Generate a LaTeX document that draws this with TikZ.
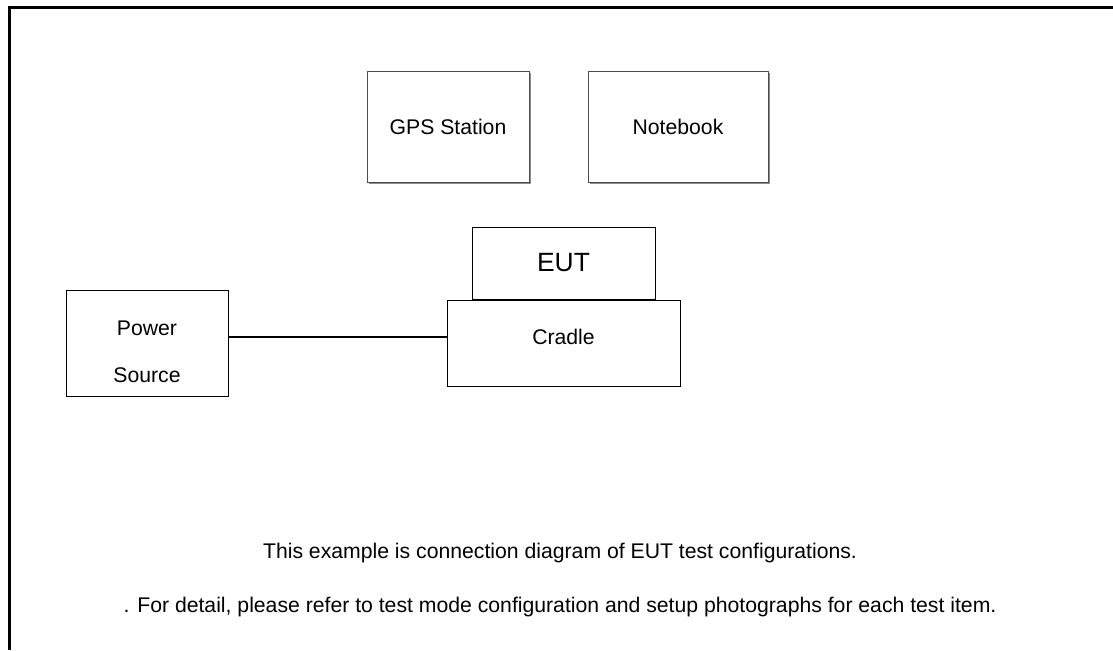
\documentclass[tikz,border=0pt]{standalone}
\usepackage{fontspec}
\setmainfont{Liberation Sans}
\usetikzlibrary{positioning,shadows}

\tikzset{
	unit/.style={draw, line width=0.5pt, minimum width=#1},
	pcbox/.style={draw=black!70, fill=white, line width=0.5pt, minimum width=#1, minimum height=55.5pt,
		drop shadow={shadow xshift=0.8pt, shadow yshift=-0.8pt, fill=black!45, opacity=1}},
}

\begin{document}
\begin{tikzpicture}[x=0.5pt, y=-0.5pt, font=\fontsize{10.6}{12.7}\selectfont]
	\useasboundingbox (0,0) rectangle (1113,650);
	\draw [line width=1.5pt] (1113,7) -- (9,7) -- (9,650);

	\node [pcbox=81pt] (GPS) at (448,126.5) {GPS Station};
	\node [pcbox=90pt] (NB) at (678,126.5) {Notebook};

	\node [unit=116.5pt, minimum height=43pt] (Cradle) at (563.5,343) {};
	\node [unit=91.5pt, minimum height=36pt, above=0pt of Cradle] (EUT) {\fontsize{13.2}{15}\selectfont EUT};
	\node at ([yshift=3pt]Cradle.center) {Cradle};
	\node [unit=81pt, minimum height=53pt, align=center] (Power) at (147,343) {\rule{0pt}{16pt}Power\\[10.8pt]Source};

	\draw [line width=1pt] ([yshift=3pt]Power.east) -- ([yshift=3pt]Cradle.west);

	\node (Note1) at (560,553) {This example is connection diagram of EUT test configurations.};
	\node [below=10pt of Note1] (Note2) {. For detail, please refer to test mode configuration and setup photographs for each test item.};
\end{tikzpicture}
\end{document}
